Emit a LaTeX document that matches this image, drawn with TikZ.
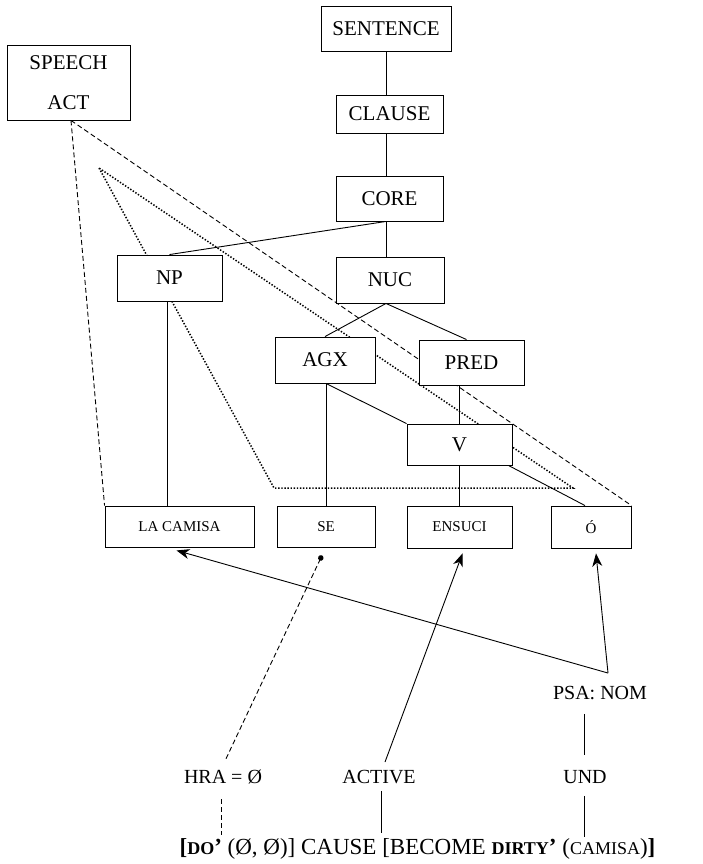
\documentclass[tikz,border=0pt]{standalone}
\usepackage{fontspec}
\setmainfont{Liberation Serif}
\usetikzlibrary{arrows.meta,backgrounds}

\tikzset{
  box/.style={draw, fill=white, line width=0.9pt, inner sep=0pt,
    font=\fontsize{21}{25}\selectfont},
  wordbox/.style={box, font=\fontsize{15}{18}\selectfont},
  lbl/.style={inner sep=0pt, font=\fontsize{20}{24}\selectfont},
  link/.style={line width=0.9pt},
  dashlink/.style={line width=0.9pt, dash pattern=on 5pt off 3pt},
  dotlink/.style={line width=1.5pt, dash pattern=on 1.4pt off 1.7pt},
  pointer/.style={line width=0.9pt, -{Stealth[length=13pt,width=10pt,inset=4pt]}},
  dotend/.style={line width=0.9pt, dash pattern=on 5pt off 3pt, -{Circle[length=5.5pt]}},
}

\newcommand{\smc}[1]{{\fontsize{18}{18}\selectfont #1}}

\begin{document}
\begin{tikzpicture}[x=1pt,y=-1pt]
\useasboundingbox (0,0) rectangle (702,864);

% layered structure boxes
\node[box, minimum width=130pt, minimum height=45pt] (sentence) at (386,28.5) {SENTENCE};
\node[box, minimum width=123pt, minimum height=75pt, align=center,
      font=\fontsize{21}{40}\selectfont] (speech) at (68.5,82.5) {SPEECH\\ACT};
\node[box, minimum width=107pt, minimum height=38pt] (clause) at (389.5,114) {CLAUSE};
\node[box, minimum width=107pt, minimum height=45pt] (core) at (389.5,198.5) {CORE};
\node[box, minimum width=105pt, minimum height=46pt] (np) at (169.5,278) {NP};
\node[box, minimum width=108pt, minimum height=46pt] (nuc) at (390,280) {NUC};
\node[box, minimum width=100pt, minimum height=46pt] (agx) at (325,360) {AGX};
\node[box, minimum width=105pt, minimum height=45pt] (pred) at (471.5,362.5) {PRED};
\node[box, minimum width=105pt, minimum height=41pt] (v) at (459.5,444.5) {V};

% word boxes
\node[wordbox, minimum width=149pt, minimum height=41pt] (camisa) at (179.5,526.5) {LA CAMISA};
\node[wordbox, minimum width=98pt, minimum height=41pt] (se) at (326,526.5) {SE};
\node[wordbox, minimum width=105pt, minimum height=42pt] (ensuci) at (459.5,527) {ENSUCI};
\node[wordbox, minimum width=80pt, minimum height=42pt] (o) at (591,527) {Ó};

% semantic labels
\node[lbl] (psa) at (600,693) {PSA: NOM};
\node[lbl] (und) at (585,777) {UND};
\node[lbl] (active) at (379,777) {ACTIVE};
\node[lbl] (hra) at (223,777) {HRA = Ø};
\node[inner sep=0pt, font=\fontsize{23}{27}\selectfont] (lsr) at (417.5,849)
  {\textbf{[}\textbf{\smc{DO}’} (Ø, Ø)] CAUSE [BECOME \textbf{\smc{DIRTY}’} (\smc{CAMISA})\textbf{]}};

% operator and speech-act scope lines behind the boxes
\coordinate (opapex) at (99,168);
\coordinate (opleft) at (274,488);
\coordinate (opright) at (573,488);
\begin{scope}[on background layer]
  \draw[dotlink] (opapex) -- (opleft) -- (opright) -- cycle;
  \draw[dashlink] ([xshift=2.5pt]speech.south) -- (camisa.north west);
  \draw[dashlink] ([xshift=2.5pt]speech.south) -- (o.north east);
\end{scope}

% tree branches
\draw[link] (sentence.south) -- (sentence.south |- clause.north);
\draw[link] (sentence.south |- clause.south) -- (sentence.south |- core.north);
\draw[link] (sentence.south |- core.south) -- (sentence.south |- nuc.north);
\draw[link] (sentence.south |- core.south) -- (np.north);
\draw[link] (sentence.south |- nuc.south) -- (agx.north);
\draw[link] (sentence.south |- nuc.south) -- ([xshift=-5pt]pred.north);
\draw[link] (v.north |- pred.south) -- (v.north);
\draw[link] (se.north |- agx.south) -- (se.north);
\draw[link] (se.north |- agx.south) -- (v.north west);
\draw[link] (v.south) -- (ensuci.north);
\draw[link] ([xshift=-4pt]v.south east) -- ([xshift=-6pt]o.north);
\draw[link] ([xshift=-2.5pt]np.south) -- ([xshift=-2.5pt]np.south |- camisa.north);

% linking arrows
\draw[pointer] ([xshift=8pt,yshift=13pt]psa.north) -- ([xshift=-3pt,yshift=-3pt]camisa.south);
\draw[pointer] ([xshift=8pt,yshift=13pt]psa.north) -- ([xshift=5pt,yshift=-5pt]o.south);
\draw[pointer] ([xshift=6pt,yshift=8pt]active.north) -- ([xshift=3pt,yshift=-5pt]ensuci.south);
\draw[dotend] ([xshift=3pt,yshift=11pt]hra.north) -- ([xshift=-4pt,yshift=-8pt]se.south);

% links down to the logical structure
\draw[link] ([xshift=-16pt,yshift=-14pt]psa.south) -- ([xshift=-1pt,yshift=15pt]und.north);
\draw[link] ([xshift=-1pt,yshift=-12pt]und.south) -- ([xshift=-1pt,yshift=-53pt]und.south);
\draw[link] ([xshift=2pt,yshift=-7pt]active.south) -- ([xshift=2pt,yshift=-49pt]active.south);
\draw[dashlink] ([xshift=-2pt,yshift=-15pt]hra.south) -- ([xshift=-2pt,yshift=-51pt]hra.south);
\end{tikzpicture}
\end{document}
